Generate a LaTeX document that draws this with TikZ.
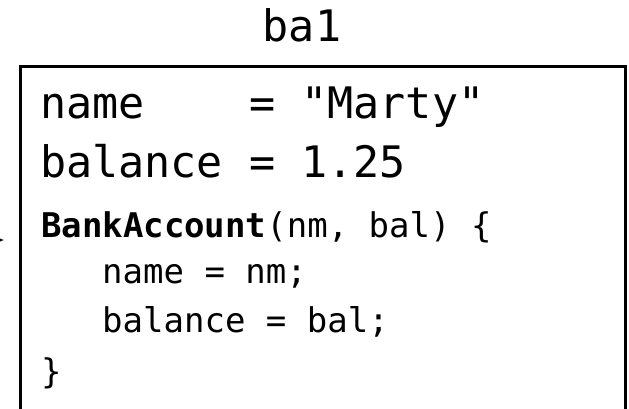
\documentclass[tikz,border=0pt]{standalone}
\usepackage{fontspec}
\usepackage{tikz}
\usetikzlibrary{arrows}
\newfontfamily\codefont{DejaVu Sans Mono}
\newfontfamily\codefontb{DejaVu Sans Mono Bold}

\begin{document}
\begin{tikzpicture}[x=1pt,y=1pt]
			\tikzset{big/.style={inner sep=0pt, anchor=base west, font=\codefont\fontsize{43.4}{50}\selectfont},
				small/.style={inner sep=0pt, anchor=base west, font=\codefont\fontsize{34}{40}\selectfont},
				cadre/.style={line width=3pt, black}};
			\useasboundingbox (0,0) rectangle (629,408);
			\clip (0,0) rectangle (629,408);
			\draw[cadre] (20.5,-10) -- (20.5,341.5) -- (625.5,341.5) -- (625.5,-10);
			\node [big, anchor=base] (title) at (302,366) {ba1};
			\node [big] (field1) at (40,290) {name\ \ \ \ = "Marty"};
			\node [big] (field2) at (40,231) {balance = 1.25};
			\node [small] (ctor) at (41,171) {{\codefontb BankAccount}(nm, bal) \{};
			\node [small] (body1) at (102,125) {name = nm;};
			\node [small] (body2) at (102,76) {balance = bal;};
			\node [small] (close) at (41,25) {\}};
			\coordinate (from) at (-40,168);
			\coordinate (to) at (4,168);
			\draw[thin, -latex] (from) -- (to);
\end{tikzpicture}
\end{document}
